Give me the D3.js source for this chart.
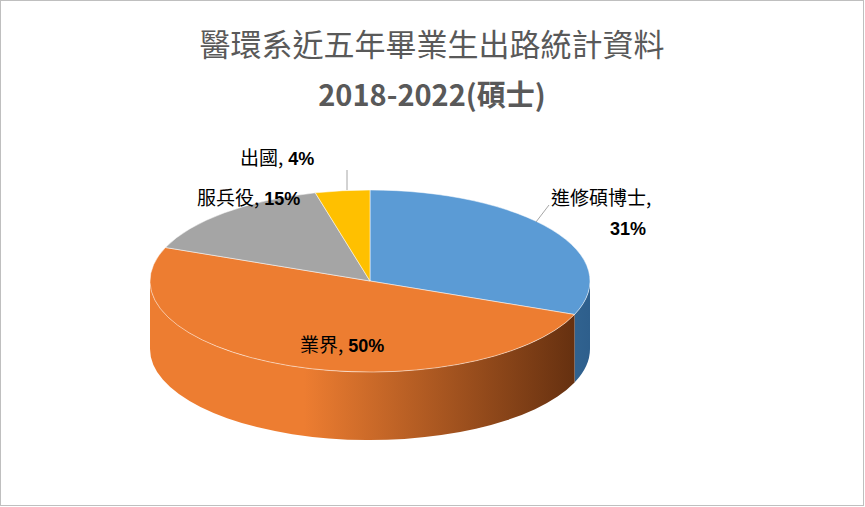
<!DOCTYPE html>
<html><head><meta charset="utf-8">
<script src="https://cdn.jsdelivr.net/npm/d3@7"></script>
<style>body{margin:0;background:#fff}</style></head>
<body><svg id="c" width="865" height="507"></svg>
<script>
const categories = ["進修碩博士","業界","服兵役","出國"];
const values = [31,50,15,4];
const colors = ["#5B9BD5","#ED7D31","#A5A5A5","#FFC000"];
const darks = ["#2E5F8C","#5E2C0E","#5A5A5A","#8A6800"];
const titleLines = ["醫環系近五年畢業生出路統計資料","2018-2022(碩士)"];

const svg = d3.select("#c");
svg.append("rect").attr("x",0.5).attr("y",0.5).attr("width",863).attr("height",505).attr("fill","#fff").attr("stroke","#BFBFBF");
svg.append("text").attr("x",432).attr("y",56).attr("text-anchor","middle").attr("font-family","Noto Sans CJK TC").attr("font-size",31).attr("fill","#595959").text(titleLines[0]);
svg.append("text").attr("x",432).attr("y",106).attr("text-anchor","middle").attr("font-family","Noto Sans CJK TC").attr("font-weight","bold").attr("font-size",29).attr("fill","#595959").text(titleLines[1]);

const cx=370, cy=281, rx=220, ry=91, depth=68;
const P=(a,dy=0)=>[cx+rx*Math.sin(a), cy-ry*Math.cos(a)+dy];
const arcs = d3.pie().sort(null)(values);
const defs = svg.append("defs");
colors.forEach((c,i)=>{
  const g=defs.append("linearGradient").attr("id","g"+i).attr("gradientUnits","userSpaceOnUse")
    .attr("x1",cx-rx).attr("x2",cx+rx).attr("y1",0).attr("y2",0);
  g.append("stop").attr("offset",0).attr("stop-color",c);
  g.append("stop").attr("offset",0.35).attr("stop-color",c);
  g.append("stop").attr("offset",1).attr("stop-color",darks[i]);
});
arcs.forEach((d,i)=>{
  const s=Math.max(d.startAngle,Math.PI/2), e=Math.min(d.endAngle,3*Math.PI/2);
  if(e<=s) return;
  const a=P(s),b=P(e),b2=P(e,depth),a2=P(s,depth);
  svg.append("path").attr("fill",`url(#g${i})`)
    .attr("d",`M${a}A${rx},${ry} 0 0 1 ${b}L${b2}A${rx},${ry} 0 0 0 ${a2}Z`);
});
arcs.forEach((d,i)=>{
  const large=(d.endAngle-d.startAngle)>Math.PI?1:0;
  svg.append("path").attr("fill",colors[i]).attr("stroke","#fff").attr("stroke-width",0.5)
    .attr("d",`M${cx},${cy}L${P(d.startAngle)}A${rx},${ry} 0 ${large} 1 ${P(d.endAngle)}Z`);
});
const labs=[{x:551,y:205,two:true},{x:300,y:352},{x:197,y:205},{x:240,y:165}];
labs.forEach((l,i)=>{
  const t=svg.append("text").attr("font-family","Noto Sans CJK TC").attr("font-size",19).attr("fill","#000");
  if(l.two){
    t.attr("x",l.x).attr("y",l.y).append("tspan").text(categories[i]+",");
    svg.append("text").attr("x",628).attr("y",235).attr("text-anchor","middle").attr("font-family","Liberation Sans").attr("font-weight","bold").attr("font-size",18).text(values[i]+"%");
  } else {
    t.attr("x",l.x).attr("y",l.y);
    t.append("tspan").text(categories[i]+",");
    t.append("tspan").attr("font-family","Liberation Sans").attr("font-weight","bold").attr("font-size",18).text(" "+values[i]+"%");
  }
});
svg.append("path").attr("d","M549,205L536,222").attr("stroke","#A6A6A6").attr("fill","none");
svg.append("path").attr("d","M347,170L347,190").attr("stroke","#A6A6A6").attr("fill","none");
</script></body></html>
